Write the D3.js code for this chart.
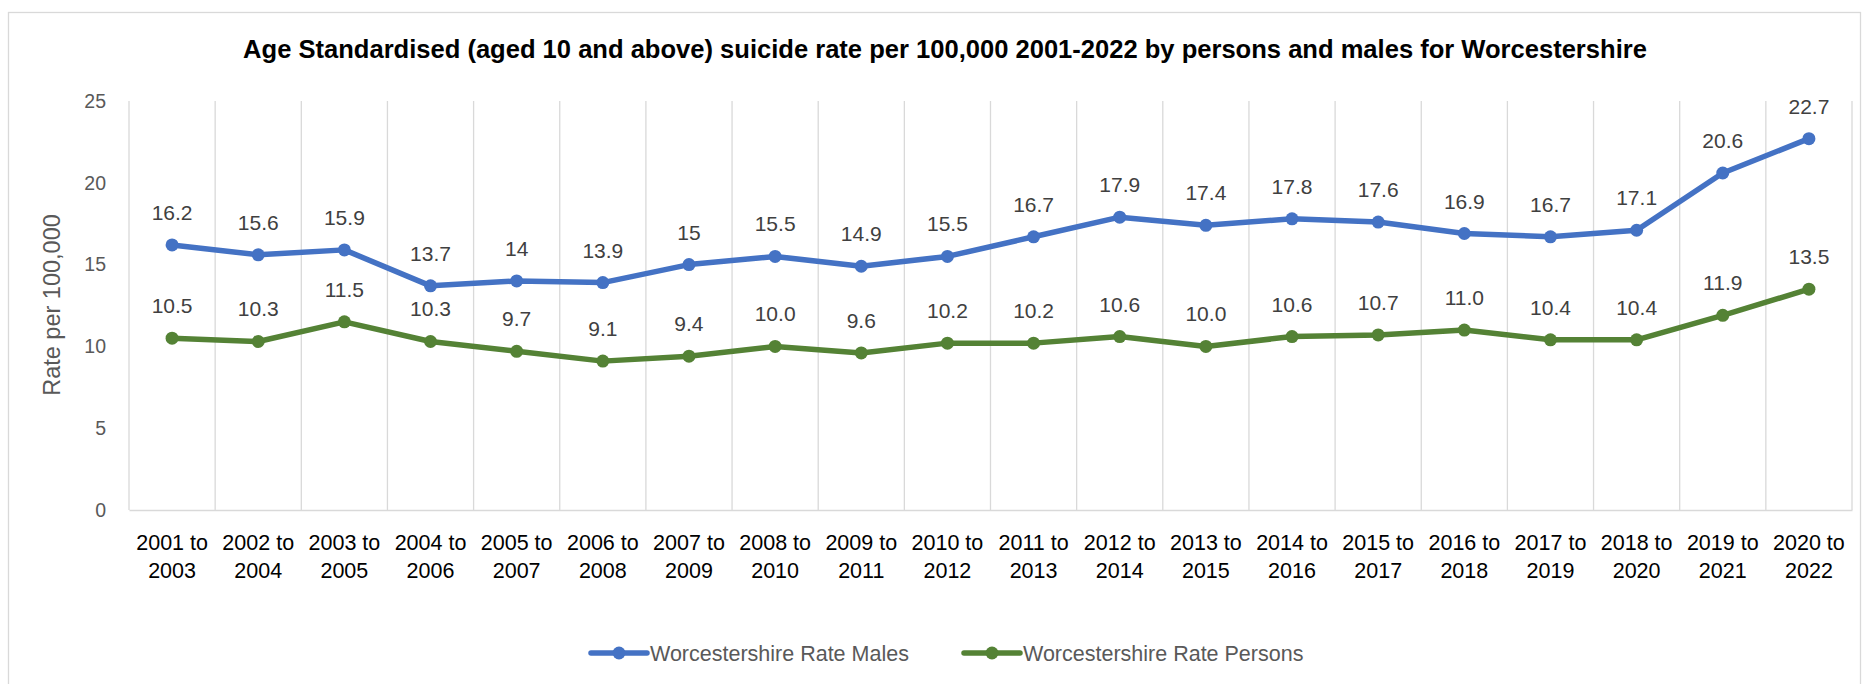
<!DOCTYPE html>
<html>
<head>
<meta charset="utf-8">
<script src="https://d3js.org/d3.v7.min.js"></script>
<style>
  body { margin: 0; background: #fff; }
  text { font-family: "Liberation Sans", Arial, sans-serif; }
</style>
</head>
<body>
<div id="chart"></div>
<script>
// data
var periods = ["2001 to 2003", "2002 to 2004", "2003 to 2005", "2004 to 2006", "2005 to 2007",
  "2006 to 2008", "2007 to 2009", "2008 to 2010", "2009 to 2011", "2010 to 2012",
  "2011 to 2013", "2012 to 2014", "2013 to 2015", "2014 to 2016", "2015 to 2017",
  "2016 to 2018", "2017 to 2019", "2018 to 2020", "2019 to 2021", "2020 to 2022"];
var malesRate = [16.2, 15.6, 15.9, 13.7, 14, 13.9, 15, 15.5, 14.9, 15.5,
  16.7, 17.9, 17.4, 17.8, 17.6, 16.9, 16.7, 17.1, 20.6, 22.7];
var personsRate = [10.5, 10.3, 11.5, 10.3, 9.7, 9.1, 9.4, 10.0, 9.6, 10.2,
  10.2, 10.6, 10.0, 10.6, 10.7, 11.0, 10.4, 10.4, 11.9, 13.5];
var yTicks = [0, 5, 10, 15, 20, 25];

var series = [
  { name: "Worcestershire Rate Males", values: malesRate, color: "#4472C4", fmt: function(v) { return String(v); } },
  { name: "Worcestershire Rate Persons", values: personsRate, color: "#548235", fmt: function(v) { return v.toFixed(1); } }
];

var width = 1863, height = 684;
var plot = { left: 129, right: 1852, top: 101, bottom: 510 };

var svg = d3.select("#chart").append("svg")
  .attr("width", width)
  .attr("height", height);

// chart border
svg.append("rect")
  .attr("x", 8.5).attr("y", 12.5)
  .attr("width", 1852).attr("height", 680)
  .attr("fill", "none")
  .attr("stroke", "#d9d9d9")
  .attr("stroke-width", 1.3);

// title
var title = svg.append("text")
  .attr("x", 945).attr("y", 58)
  .attr("text-anchor", "middle")
  .attr("font-weight", "bold")
  .attr("font-size", 21)
  .attr("fill", "#000")
  .text("Age Standardised (aged 10 and above) suicide rate per 100,000 2001-2022 by persons and males for Worcestershire");
var tw = title.node().getComputedTextLength();
title.attr("font-size", 21 * 1405 / tw);

var x = d3.scaleBand()
  .domain(periods)
  .range([plot.left, plot.right])
  .padding(0);

var y = d3.scaleLinear()
  .domain([0, 25])
  .range([plot.bottom, plot.top]);

// vertical gridlines at category boundaries
var bounds = periods.map(function(p) { return x(p); }).concat([plot.right]);
svg.append("g").selectAll("line")
  .data(bounds)
  .enter().append("line")
  .attr("x1", function(d) { return d; })
  .attr("x2", function(d) { return d; })
  .attr("y1", plot.top)
  .attr("y2", plot.bottom)
  .attr("stroke", "#d9d9d9")
  .attr("stroke-width", 1.3);

// x axis
var xAxis = svg.append("g")
  .attr("transform", "translate(0," + plot.bottom + ")")
  .call(d3.axisBottom(x).tickSize(0));
xAxis.select(".domain").attr("stroke", "#d9d9d9").attr("stroke-width", 1.3);
xAxis.selectAll(".tick text").each(function(d) {
  var t = d3.select(this);
  var parts = d.split(" to ");
  t.text(null)
    .attr("y", 0)
    .attr("dy", null)
    .attr("font-size", 21.5)
    .attr("fill", "#000");
  t.append("tspan").attr("x", 0).attr("y", 40).text(parts[0] + " to");
  t.append("tspan").attr("x", 0).attr("y", 68).text(parts[1]);
});

// y axis
var yAxis = svg.append("g")
  .attr("transform", "translate(" + plot.left + ",0)")
  .call(d3.axisLeft(y).tickValues(yTicks).tickSize(0).tickPadding(23));
yAxis.select(".domain").remove();
yAxis.selectAll(".tick text")
  .attr("font-size", 19.5)
  .attr("fill", "#595959");

// y axis title
svg.append("text")
  .attr("transform", "translate(60,305) rotate(-90)")
  .attr("text-anchor", "middle")
  .attr("font-size", 23.5)
  .attr("fill", "#595959")
  .text("Rate per 100,000");

// lines, markers, labels
var line = d3.line()
  .x(function(d, i) { return x(periods[i]) + x.bandwidth() / 2; })
  .y(function(d) { return y(d); });

series.forEach(function(s) {
  var g = svg.append("g");
  g.append("path")
    .datum(s.values)
    .attr("d", line)
    .attr("fill", "none")
    .attr("stroke", s.color)
    .attr("stroke-width", 5.5)
    .attr("stroke-linejoin", "round")
    .attr("stroke-linecap", "round");
  g.selectAll("circle")
    .data(s.values)
    .enter().append("circle")
    .attr("cx", function(d, i) { return x(periods[i]) + x.bandwidth() / 2; })
    .attr("cy", function(d) { return y(d); })
    .attr("r", 6.5)
    .attr("fill", s.color);
  g.selectAll("text")
    .data(s.values)
    .enter().append("text")
    .attr("x", function(d, i) { return x(periods[i]) + x.bandwidth() / 2; })
    .attr("y", function(d) { return y(d) - 25; })
    .attr("text-anchor", "middle")
    .attr("font-size", 21)
    .attr("fill", "#404040")
    .text(function(d) { return s.fmt(d); });
});

// legend
var legendPos = [591, 964];
series.forEach(function(s, i) {
  var lg = svg.append("g").attr("transform", "translate(" + legendPos[i] + ",653)");
  lg.append("line")
    .attr("x1", 0).attr("x2", 56)
    .attr("y1", 0).attr("y2", 0)
    .attr("stroke", s.color)
    .attr("stroke-width", 5.5)
    .attr("stroke-linecap", "round");
  lg.append("circle")
    .attr("cx", 28).attr("cy", 0)
    .attr("r", 6.5)
    .attr("fill", s.color);
  lg.append("text")
    .attr("x", 59).attr("y", 7.5)
    .attr("font-size", 21.5)
    .attr("fill", "#595959")
    .text(s.name);
});
</script>
</body>
</html>
